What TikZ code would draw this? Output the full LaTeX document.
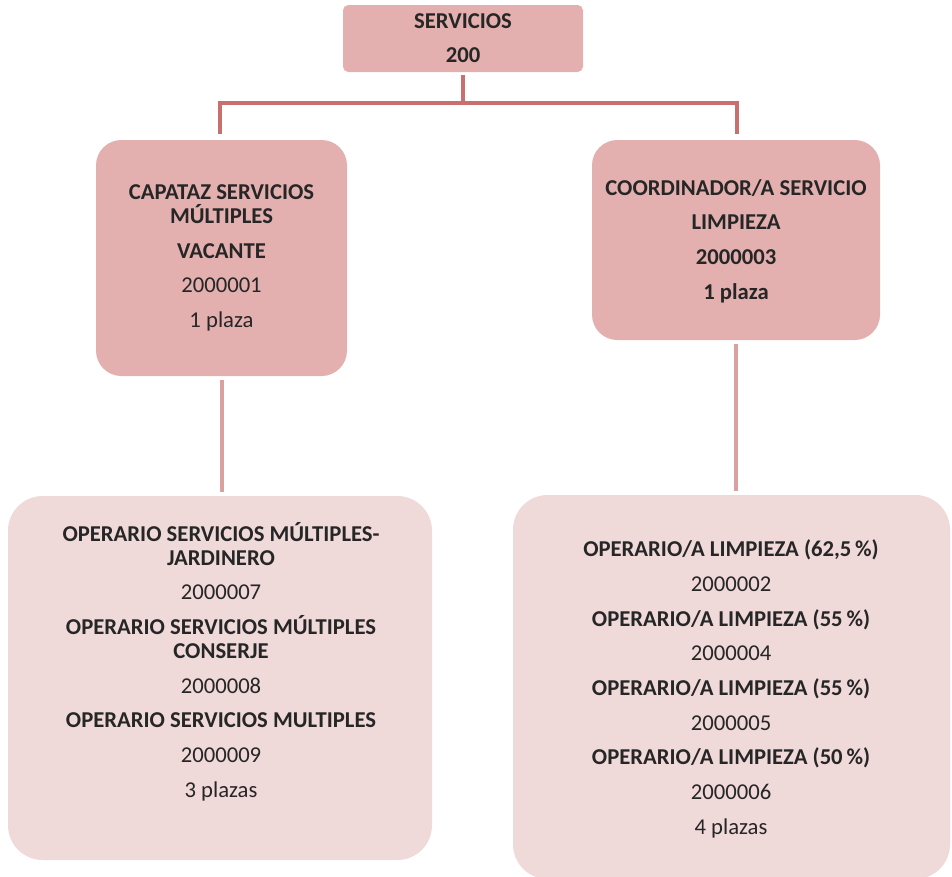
\documentclass[tikz,border=0pt]{standalone}
\usepackage{fontspec}
\setmainfont{Carlito}
\usepackage{tikz}
\usetikzlibrary{positioning}
\definecolor{boxmid}{HTML}{E3B0AF}
\definecolor{boxlow}{HTML}{F0D9D9}
\definecolor{linetop}{HTML}{C96F6F}
\definecolor{linelow}{HTML}{DBA0A0}
\definecolor{txt}{HTML}{262626}
\begin{document}
\begin{tikzpicture}[x=0.75pt,y=-0.75pt,
  midbox/.style={fill=boxmid, draw=none, rounded corners=19pt, inner sep=0pt},
  lowbox/.style={fill=boxlow, draw=none, rounded corners=26pt, inner sep=0pt},
  txtnode/.style={align=center, text=txt, font=\fontsize{17}{18}\selectfont, inner sep=0pt},
  uplink/.style={linetop, line width=3pt},
  downlink/.style={linelow, line width=3pt, shorten <=3pt, shorten >=3pt}]
\useasboundingbox (0,0) rectangle (952,876);

% boxes
\node(s)[midbox, rounded corners=4pt, minimum width=180pt, minimum height=50.25pt] at (463,38.5) {};
\node(a)[midbox, minimum width=188.25pt, minimum height=177pt] at (221.5,258) {};
\node(b)[midbox, minimum width=216pt, minimum height=150pt] at (736,240) {};
\node(A)[lowbox, minimum width=318pt, minimum height=273pt] at (220,678) {};
\node(B)[lowbox, minimum width=327.75pt, minimum height=288pt] at (731.5,687) {};

% texts
\node(st)[txtnode] at (463,38) {\textbf{SERVICIOS}\\[8pt]\textbf{200}};
\node(at)[txtnode] at (221.5,258) {\textbf{CAPATAZ SERVICIOS}\\\textbf{MÚLTIPLES}\\[8pt]\textbf{VACANTE}\\[8pt]2000001\\[8pt]1 plaza};
\node(bt)[txtnode] at (736,241) {\textbf{COORDINADOR/A SERVICIO}\\[8pt]\textbf{LIMPIEZA}\\[8pt]\textbf{2000003}\\[8pt]\textbf{1 plaza}};
\node(At)[txtnode] at (221,661.5) {\textbf{OPERARIO SERVICIOS MÚLTIPLES-}\\\textbf{JARDINERO}\\[8pt]2000007\\[8pt]\textbf{OPERARIO SERVICIOS MÚLTIPLES}\\\textbf{CONSERJE}\\[8pt]2000008\\[8pt]\textbf{OPERARIO SERVICIOS MULTIPLES}\\[8pt]2000009\\[8pt]3 plazas};
\node(Bt)[txtnode] at (731,689) {\textbf{OPERARIO/A LIMPIEZA (62,5\,\%)}\\[8pt]2000002\\[8pt]\textbf{OPERARIO/A LIMPIEZA (55\,\%)}\\[8pt]2000004\\[8pt]\textbf{OPERARIO/A LIMPIEZA (55\,\%)}\\[8pt]2000005\\[8pt]\textbf{OPERARIO/A LIMPIEZA (50\,\%)}\\[8pt]2000006\\[8pt]4 plazas};

% connectors
\coordinate(m) at (463,103);
\draw[uplink, shorten <=2pt] (s.south) -- (m);
\draw[uplink, shorten >=4pt] (m) -| ([xshift=-1pt]a.north);
\draw[uplink, shorten >=4pt] (m) -| ([xshift=1pt]b.north);
\draw[downlink] (a.south) -- (a.south |- A.north);
\draw[downlink] (b.south) -- (b.south |- B.north);
\end{tikzpicture}
\end{document}
